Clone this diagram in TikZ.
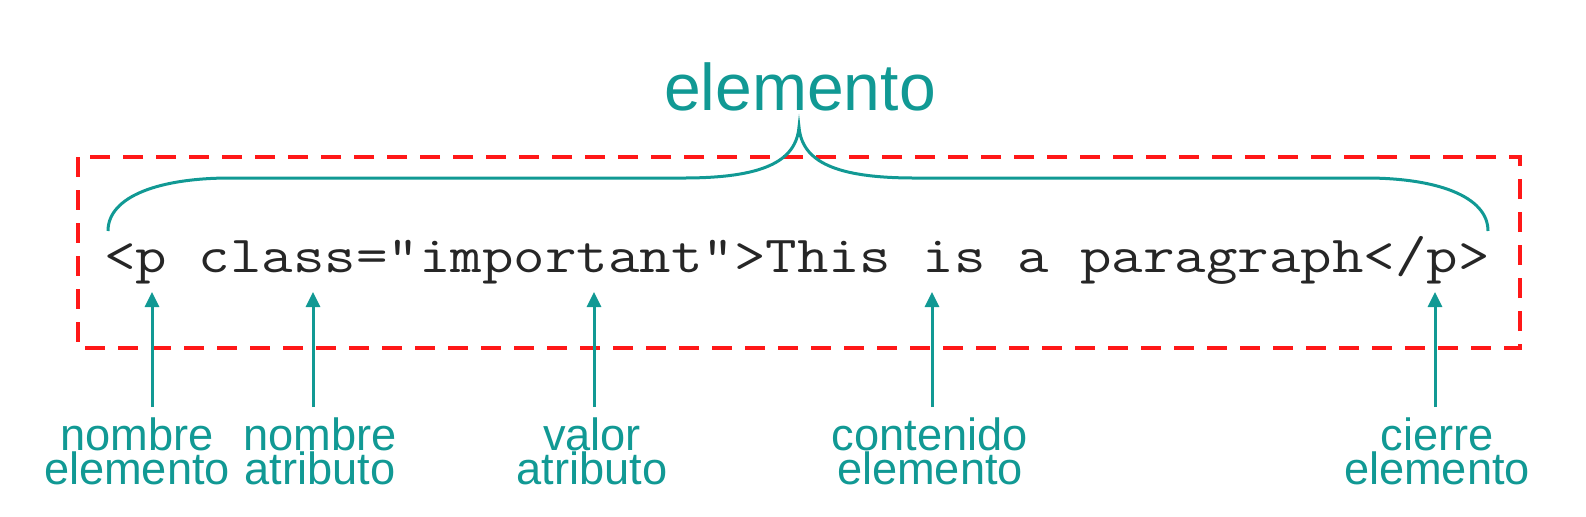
\documentclass[tikz,border=0pt]{standalone}
\usepackage{fontspec}
\setmainfont{Liberation Sans}
\usepackage{graphicx}
\usepackage{xcolor}
\usepackage{tikz}
\usetikzlibrary{arrows.meta,positioning}
\definecolor{tealc}{RGB}{17,153,148}
\definecolor{boxred}{RGB}{255,24,24}
\newcommand{\codeline}[1]{\scalebox{1.176}[1]{#1}}
\tikzstyle{codeText} = [inner sep=0pt, anchor=base, text=black!85, font=\ttfamily\fontsize{26}{30}\selectfont]
\tikzstyle{partLabel} = [inner sep=0pt, anchor=north, align=center, text=tealc, font=\fontsize{22.6}{17}\selectfont]
\tikzstyle{pointer} = [draw, tealc, line width=1.5pt, -{Triangle[length=7.5pt,width=7pt]}]
\tikzstyle{brace} = [draw, tealc, line width=1.5pt]
\tikzstyle{frame} = [draw, boxred, line width=2pt, dash pattern=on 10pt off 6.5pt]

\begin{document}
\begin{tikzpicture}[x=0.5pt, y=-0.5pt]
    \useasboundingbox (0,0) rectangle (1586,516);
    % Place nodes
    \node [codeText] (code) at (797,272) {\codeline{<p class="important">This is a paragraph</p>}};
    \node [partLabel] (tagName) at (137,417) {nombre\\elemento};
    \node [partLabel] (attrName) at (320,417) {nombre\\atributo};
    \node [partLabel] (attrValue) at (592,417) {valor\\atributo};
    \node [partLabel] (content) at (930,417) {contenido\\elemento};
    \node [partLabel] (closing) at (1437,417) {cierre\\elemento};
    \node [inner sep=0pt, anchor=base, text=tealc, font=\fontsize{33}{38}\selectfont] (element) at (800,110) {elemento};
    \coordinate (tagTip) at (152,292);
    \coordinate (attrTip) at (313,292);
    \coordinate (valueTip) at (594,292);
    \coordinate (contentTip) at (932,292);
    \coordinate (closeTip) at (1435,292);

    % Frame and brace
    \draw [frame] (78,157) rectangle (1520,348);
    \path [brace] (108,231) .. controls (108,196) and (160,178) .. (230,178) -- (683,178)
        .. controls (762,178) and (796,162) .. (799,127)
        .. controls (802,162) and (836,178) .. (915,178) -- (1366,178)
        .. controls (1436,178) and (1488,196) .. (1488,231);

    % Draw edges
    \path [pointer] (tagTip |- 0,407) -- (tagTip);
    \path [pointer] (attrTip |- 0,407) -- (attrTip);
    \path [pointer] (valueTip |- 0,407) -- (valueTip);
    \path [pointer] (contentTip |- 0,407) -- (contentTip);
    \path [pointer] (closeTip |- 0,407) -- (closeTip);
\end{tikzpicture}
\end{document}
